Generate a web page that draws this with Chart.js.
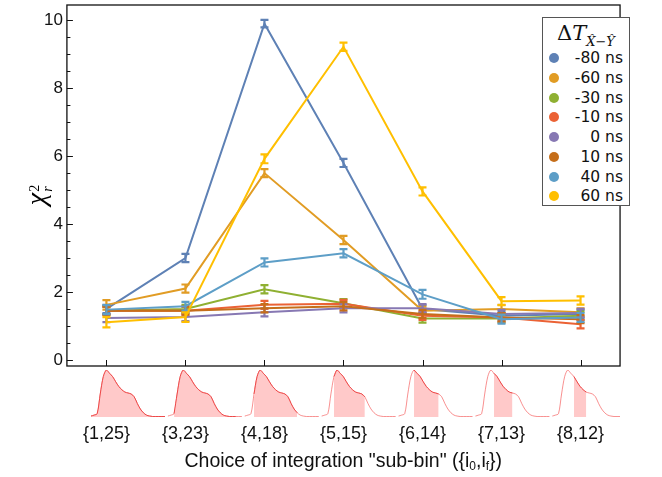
<!DOCTYPE html>
<html>
<head>
<meta charset="utf-8">
<script src="https://cdn.jsdelivr.net/npm/chart.js@4.4.1/dist/chart.umd.min.js"></script>
<style>
  html, body { margin: 0; padding: 0; background: #fff; }
  #wrap { position: relative; width: 662px; height: 477px; }
  #chart { position: absolute; left: 0; top: 0; }
  #pulses { position: absolute; left: 0; }
  #ylabel {
    position: absolute; left: 12px; top: 180px; width: 46px; height: 30px;
    transform: rotate(-90deg); transform-origin: center center;
    font-family: "Liberation Serif", serif; color: #000; white-space: nowrap;
    text-align: center;
  }
  #ylabel .chi { font-size: 28px; font-style: italic; }
  #ylabel .stack { display: inline-block; vertical-align: middle; line-height: 13px; font-size: 14px; margin-left: 1px; }
  #ylabel .stack span { display: block; text-align: left; }
  #xlabel {
    position: absolute; left: 0; top: 449px; font-family: "Liberation Sans", Arial, sans-serif;
    font-size: 19.5px; color: #111; white-space: nowrap; text-align: center;
  }
  #xlabel sub { font-size: 12px; vertical-align: -3px; }
  #legend {
    position: absolute; left: 542px; top: 17px; width: 86px; height: 187px;
    border: 1.3px solid #555; background: #fff; font-family: "DejaVu Sans", sans-serif;
  }
  #legend .ttl { position: absolute; left: 0; top: 3px; width: 100%; text-align: center; font-family: "DejaVu Serif", serif; font-size: 21px; color: #111; }
  #legend .ttl sub { font-size: 13px; font-style: italic; vertical-align: -6px; }
  #legend .row { position: absolute; left: 0; width: 100%; height: 20px; }
  #legend .dot { position: absolute; left: 6px; top: 5px; width: 10px; height: 10px; border-radius: 50%; }
  #legend .lbl { position: absolute; right: 6px; top: 0; font-size: 15.5px; line-height: 20px; color: #111; }
</style>
</head>
<body>
<div id="wrap">
  <canvas id="chart" width="662" height="477"></canvas>
  <canvas id="pulses" width="662" height="56"></canvas>
  <div id="ylabel"><span class="chi">χ</span><span class="stack"><span>2</span><span><i>r</i></span></span></div>
  <div id="xlabel">Choice of integration "sub-bin" ({i<sub>0</sub>,i<sub>f</sub>})</div>
  <div id="legend"></div>
</div>
<script>
// integration windows {i0, if}
const subBins = [[1, 25], [3, 23], [4, 18], [5, 15], [6, 14], [7, 13], [8, 12]];
const labels = subBins.map(b => '{' + b[0] + ',' + b[1] + '}');

const seriesNames = ['-80 ns', '-60 ns', '-30 ns', '-10 ns', '0 ns', '10 ns', '40 ns', '60 ns'];
const seriesColors = ['#5E81B5', '#E19C24', '#8FB032', '#EB6235', '#8778B3', '#C56E1A', '#5D9EC7', '#FFBF00'];

// reduced chi^2 per window
const chiM80 = [1.50, 3.00, 9.90, 5.80, 1.50, 1.30, 1.35];
const chiM60 = [1.62, 2.10, 5.50, 3.53, 1.45, 1.50, 1.40];
const chiM30 = [1.45, 1.50, 2.08, 1.67, 1.22, 1.22, 1.30];
const chiM10 = [1.45, 1.45, 1.62, 1.65, 1.30, 1.25, 1.05];
const chiZ00 = [1.23, 1.26, 1.40, 1.52, 1.52, 1.35, 1.38];
const chiP10 = [1.45, 1.45, 1.52, 1.58, 1.35, 1.25, 1.20];
const chiP40 = [1.48, 1.58, 2.87, 3.14, 1.93, 1.20, 1.25];
const chiP60 = [1.11, 1.26, 5.92, 9.22, 4.96, 1.73, 1.75];

// error bars (+/-)
const errM80 = [0.12, 0.12, 0.11, 0.12, 0.12, 0.12, 0.12];
const errM60 = [0.14, 0.12, 0.12, 0.12, 0.12, 0.12, 0.12];
const errM30 = [0.12, 0.12, 0.12, 0.12, 0.12, 0.12, 0.12];
const errM10 = [0.12, 0.12, 0.12, 0.12, 0.12, 0.12, 0.12];
const errZ00 = [0.12, 0.12, 0.12, 0.12, 0.12, 0.12, 0.12];
const errP10 = [0.12, 0.12, 0.12, 0.12, 0.12, 0.12, 0.12];
const errP40 = [0.13, 0.13, 0.12, 0.12, 0.13, 0.13, 0.13];
const errP60 = [0.15, 0.14, 0.13, 0.12, 0.12, 0.12, 0.12];

const chiValues = [chiM80, chiM60, chiM30, chiM10, chiZ00, chiP10, chiP40, chiP60];
const chiErrors = [errM80, errM60, errM30, errM10, errZ00, errP10, errP40, errP60];

// normalised pulse shape, samples i = 1..25
const pulseShape = [0.02, 0.04, 0.07, 0.49, 0.86, 1.00, 0.93, 0.86, 0.75, 0.65, 0.58, 0.53, 0.51,
                    0.49, 0.43, 0.29, 0.17, 0.09, 0.04, 0.02, 0.01, 0.01, 0.01, 0.01, 0.01];

Chart.defaults.font.family = '"Liberation Sans", Arial, sans-serif';
Chart.defaults.color = '#111';

// error bars drawn right after each line so later series sit on top
const errorBars = {
    id: 'errorBars',
    afterDatasetDraw(chart, args) {
        const ds = chart.data.datasets[args.index];
        const y = chart.scales.y;
        const ctx = chart.ctx;
        ctx.save();
        ctx.strokeStyle = ds.borderColor;
        ctx.lineWidth = 2.2;
        args.meta.data.forEach((pt, j) => {
            const v = ds.data[j], e = ds.errors[j];
            const top = y.getPixelForValue(v + e), bot = y.getPixelForValue(v - e);
            ctx.beginPath();
            ctx.moveTo(pt.x, top); ctx.lineTo(pt.x, bot);
            ctx.moveTo(pt.x - 4, top); ctx.lineTo(pt.x + 4, top);
            ctx.moveTo(pt.x - 4, bot); ctx.lineTo(pt.x + 4, bot);
            ctx.stroke();
        });
        ctx.restore();
    }
};

// frame with inward ticks
const frame = {
    id: 'frame',
    afterDraw(chart) {
        const {ctx, chartArea: a, scales} = chart;
        ctx.save();
        ctx.strokeStyle = '#111';
        ctx.lineWidth = 1.3;
        ctx.strokeRect(a.left, a.top, a.right - a.left, a.bottom - a.top);
        ctx.lineWidth = 1;
        ctx.beginPath();
        scales.y.ticks.forEach(t => {
            const py = Math.round(scales.y.getPixelForValue(t.value)) + 0.5;
            const len = Math.abs(t.value % 2) < 1e-6 ? 6 : 3.5;
            ctx.moveTo(a.left, py); ctx.lineTo(a.left + len, py);
        });
        scales.x.ticks.forEach((t, i) => {
            const px = Math.round(scales.x.getPixelForTick(i)) + 0.5;
            ctx.moveTo(px, a.bottom); ctx.lineTo(px, a.bottom - 6);
        });
        ctx.stroke();
        ctx.restore();
    }
};

const main = new Chart(document.getElementById('chart'), {
    type: 'line',
    data: {
        labels: labels,
        datasets: seriesNames.map((name, i) => ({
            label: name,
            data: chiValues[i],
            errors: chiErrors[i],
            borderColor: seriesColors[i],
            backgroundColor: seriesColors[i],
            borderWidth: 2,
            pointRadius: 0,
            tension: 0,
            order: seriesNames.length - i
        }))
    },
    options: {
        responsive: false,
        animation: false,
        layout: { padding: { left: 40, right: 13, top: 5, bottom: 0 } },
        plugins: { legend: { display: false }, tooltip: { enabled: false } },
        scales: {
            x: {
                offset: true,
                grid: { display: false, drawTicks: false },
                border: { display: false },
                ticks: { font: { size: 18 }, color: '#111', padding: 57 },
                // room below the plot for the pulse strip, labels and title
                afterFit: (scale) => { scale.height = 111; }
            },
            y: {
                min: -0.18,
                max: 10.45,
                grid: { display: false, drawTicks: false },
                border: { display: false },
                ticks: {
                    stepSize: 0.5,
                    includeBounds: false,
                    autoSkip: false,
                    padding: 4,
                    font: { size: 17 },
                    color: '#111',
                    callback: (v) => (Math.abs(v % 2) < 1e-6 ? String(v) : '')
                },
                // labels sit well inside the range, no edge padding needed
                afterFit: (scale) => { scale.paddingTop = 0; scale.paddingBottom = 0; }
            }
        }
    },
    plugins: [errorBars, frame]
});

// pulse thumbnails under each window, sharing the category positions
const area = main.chartArea;
const pulseCanvas = document.getElementById('pulses');
pulseCanvas.style.top = (area.bottom + 1) + 'px';
const sampleStep = 0.039;   // category units per sample
const pulseDrift = 0.973;   // thumbnails sit slightly left of the later ticks
const peakSample = 6;

const pulseSets = [];
subBins.forEach((bin, k) => {
    const pts = pulseShape.map((v, n) => ({ x: k * pulseDrift + (n + 1 - peakSample) * sampleStep, y: v }));
    pulseSets.push({
        data: pts.filter((p, n) => n + 1 >= bin[0] && n + 1 <= bin[1]),
        borderColor: 'rgba(235,60,60,0.9)',
        backgroundColor: '#FFC9C9',
        borderWidth: 1,
        fill: 'origin',
        pointRadius: 0,
        tension: 0.3
    });
    pulseSets.push({
        data: pts,
        borderColor: 'rgba(245,90,90,0.75)',
        borderWidth: 0.9,
        fill: false,
        pointRadius: 0,
        tension: 0.3
    });
});

new Chart(pulseCanvas, {
    type: 'line',
    data: { datasets: pulseSets },
    options: {
        responsive: false,
        animation: false,
        layout: { padding: { left: area.left, right: 662 - area.right, top: 3, bottom: 6 } },
        plugins: { legend: { display: false }, tooltip: { enabled: false } },
        scales: {
            x: { type: 'linear', min: -0.5, max: 6.5, display: false },
            y: { min: 0, max: 1, display: false }
        }
    }
});

// x axis title centred on the plot area
const xl = document.getElementById('xlabel');
xl.style.left = ((area.left + area.right) / 2 - xl.offsetWidth / 2) + 'px';

// legend
const legend = document.getElementById('legend');
legend.innerHTML = '<div class="ttl">Δ<i>T</i><sub>X\u0302\u2212Y\u0302</sub></div>' +
    seriesNames.map((name, i) =>
        '<div class="row" style="top:' + (30 + i * 19.76) + 'px">' +
        '<span class="dot" style="background:' + seriesColors[i] + '"></span>' +
        '<span class="lbl">' + name + '</span></div>').join('');
</script>
</body>
</html>
